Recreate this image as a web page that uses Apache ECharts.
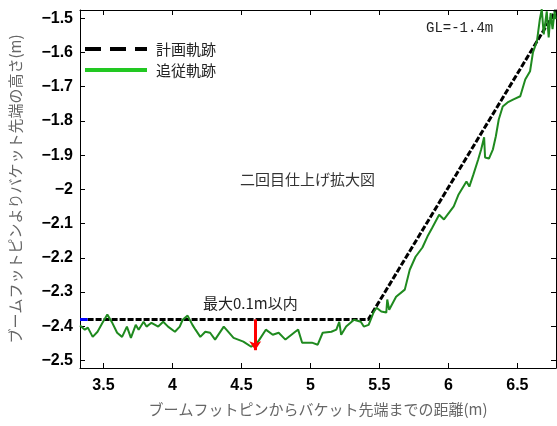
<!DOCTYPE html>
<html>
<head>
<meta charset="utf-8">
<script src="https://cdn.jsdelivr.net/npm/echarts@6/dist/echarts.min.js"></script>
<style>
  html, body { margin: 0; padding: 0; background: #fff; }
  #chart { width: 557px; height: 426px; }
</style>
</head>
<body>
<div id="chart"></div>
<script>
// 計画軌跡 (dashed black)
const planX = [3.385, 5.42, 6.78];
const planY = [-2.38, -2.38, -1.476];
// short blue piece at the left end of the plan
const startX = [3.33, 3.385];
const startY = [-2.38, -2.38];

// 追従軌跡 (green)
const trackX = [
  3.330, 3.365, 3.387, 3.422, 3.457, 3.493, 3.528, 3.564, 3.599, 3.635,
  3.670, 3.699, 3.734, 3.755, 3.791, 3.812, 3.848, 3.897, 3.933, 3.968,
  4.018, 4.053, 4.074, 4.110, 4.145, 4.167, 4.202, 4.238, 4.273, 4.309,
  4.372, 4.443, 4.514, 4.571, 4.621, 4.677, 4.727, 4.770, 4.819, 4.890,
  4.911, 4.940, 5.011, 5.053, 5.089, 5.152, 5.188, 5.209, 5.223, 5.259,
  5.316, 5.365, 5.387, 5.422, 5.457, 5.479, 5.514, 5.550, 5.557, 5.571,
  5.621, 5.684, 5.720, 5.762, 5.812, 5.848, 5.883, 5.933, 5.968, 6.039,
  6.074, 6.131, 6.152, 6.181, 6.216, 6.238, 6.259, 6.266, 6.294, 6.323,
  6.344, 6.365, 6.394, 6.429, 6.472, 6.521, 6.557, 6.592, 6.613, 6.642,
  6.663, 6.677, 6.691, 6.713, 6.727, 6.741, 6.755, 6.770, 6.777
];
const trackY = [
  -2.398, -2.410, -2.404, -2.431, -2.416, -2.390, -2.366, -2.390, -2.419, -2.431,
  -2.401, -2.434, -2.396, -2.410, -2.387, -2.401, -2.390, -2.401, -2.387, -2.401,
  -2.416, -2.401, -2.381, -2.369, -2.396, -2.410, -2.431, -2.416, -2.419, -2.439,
  -2.401, -2.434, -2.445, -2.460, -2.445, -2.410, -2.425, -2.419, -2.439, -2.416,
  -2.410, -2.448, -2.448, -2.454, -2.419, -2.416, -2.410, -2.387, -2.425, -2.401,
  -2.381, -2.387, -2.401, -2.396, -2.360, -2.346, -2.357, -2.360, -2.322, -2.352,
  -2.314, -2.293, -2.235, -2.197, -2.170, -2.138, -2.112, -2.074, -2.088, -2.050,
  -2.015, -1.977, -1.992, -1.957, -1.913, -1.883, -1.848, -1.907, -1.910, -1.883,
  -1.845, -1.796, -1.758, -1.746, -1.737, -1.728, -1.679, -1.655, -1.600, -1.567,
  -1.503, -1.474, -1.547, -1.480, -1.556, -1.485, -1.532, -1.480, -1.503
];

// 最大誤差の矢印
const arrowX = 4.6;
const arrowFrom = -2.38;
const arrowTo = -2.47;

const xMin = 3.33, xMax = 6.78;
const yMin = -2.522, yMax = -1.476;

const zip = (xs, ys) => xs.map((x, i) => [x, ys[i]]);

const tickFont = {
  fontFamily: "'Liberation Sans', Arial, sans-serif",
  fontWeight: 'bold',
  fontSize: 16,
  color: '#000'
};
const jpFont = "'Noto Sans CJK JP', sans-serif";
const minus = v => String(v).replace('-', '\u2212');

const chart = echarts.init(document.getElementById('chart'), null, { renderer: 'canvas' });

chart.setOption({
  animation: false,
  backgroundColor: '#fff',
  grid: { left: 70, right: 1, top: 10, bottom: 58, containLabel: false },
  legend: {
    orient: 'vertical',
    left: 83,
    top: 40,
    padding: 0,
    itemWidth: 62,
    itemHeight: 12,
    itemGap: 3,
    textStyle: { fontFamily: jpFont, fontSize: 15, lineHeight: 18, color: '#222', padding: [0, 0, 0, 4] },
    data: [
      { name: '計画軌跡', itemStyle: { opacity: 0 }, lineStyle: { color: '#000', width: 4, type: [16, 9] } },
      { name: '追従軌跡', itemStyle: { opacity: 0 }, lineStyle: { color: '#22c822', width: 4, type: 'solid' } }
    ]
  },
  xAxis: [
    {
      type: 'value', min: xMin, max: xMax, splitNumber: 7,
      position: 'bottom',
      name: 'ブームフットピンからバケット先端までの距離(m)',
      nameLocation: 'middle', nameGap: 34,
      nameTextStyle: { fontFamily: jpFont, fontSize: 15, color: '#666' },
      axisLine: { lineStyle: { color: '#000', width: 1 } },
      axisTick: { inside: true, length: 5, lineStyle: { color: '#000' } },
      axisLabel: Object.assign({ margin: 10, showMinLabel: false, showMaxLabel: false }, tickFont),
      splitLine: { show: false }
    },
    {
      type: 'value', min: xMin, max: xMax, splitNumber: 7,
      position: 'top',
      axisLine: { lineStyle: { color: '#000', width: 1 } },
      axisTick: { inside: true, length: 5, lineStyle: { color: '#000' } },
      axisLabel: { show: false },
      splitLine: { show: false }
    }
  ],
  yAxis: [
    {
      type: 'value', min: yMin, max: yMax, splitNumber: 10,
      position: 'left',
      name: 'ブームフットピンよりバケット先端の高さ(m)',
      nameLocation: 'middle', nameGap: 57, nameRotate: 90,
      nameTextStyle: { fontFamily: jpFont, fontSize: 15, color: '#666' },
      axisLine: { show: true, lineStyle: { color: '#000', width: 1 } },
      axisTick: { show: true, inside: true, length: 5, lineStyle: { color: '#000' } },
      axisLabel: Object.assign({ margin: 7, showMinLabel: false, showMaxLabel: false, formatter: minus }, tickFont),
      splitLine: { show: false }
    },
    {
      type: 'value', min: yMin, max: yMax, splitNumber: 10,
      position: 'right',
      axisLine: { show: true, lineStyle: { color: '#000', width: 1 } },
      axisTick: { show: true, inside: true, length: 5, lineStyle: { color: '#000' } },
      axisLabel: { show: false },
      splitLine: { show: false }
    }
  ],
  series: [
    {
      name: '計画軌跡',
      type: 'line',
      data: zip(planX, planY),
      symbol: 'none',
      lineStyle: { color: '#000', width: 3, type: [6, 2] },
      itemStyle: { color: '#000' },
      z: 2
    },
    {
      name: '開始',
      type: 'line',
      data: zip(startX, startY),
      symbol: 'none',
      lineStyle: { color: '#0000ff', width: 3 },
      z: 2
    },
    {
      name: '追従軌跡',
      type: 'line',
      data: zip(trackX, trackY),
      symbol: 'none',
      lineStyle: { color: '#1f8a1f', width: 2 },
      itemStyle: { color: '#1f8a1f' },
      z: 3
    },
    {
      name: '最大誤差',
      type: 'line',
      data: [],
      markLine: {
        silent: true,
        symbol: ['none', 'arrow'],
        symbolSize: 9,
        label: { show: false },
        lineStyle: { color: '#ff0000', width: 3, type: 'solid' },
        data: [[{ coord: [arrowX, arrowFrom] }, { coord: [arrowX, arrowTo] }]]
      },
      z: 4
    }
  ],
  graphic: [
    {
      type: 'text', left: 426, top: 21,
      style: { text: 'GL=-1.4m', fontFamily: "'Liberation Mono', monospace", fontSize: 14, fill: '#222' }
    },
    {
      type: 'text', left: 240, top: 172,
      style: { text: '二回目仕上げ拡大図', fontFamily: jpFont, fontSize: 15, fill: '#333' }
    },
    {
      type: 'text', left: 203, top: 296,
      style: { text: '最大0.1m以内', fontFamily: jpFont, fontSize: 15, fill: '#222' }
    }
  ]
});
</script>
</body>
</html>
